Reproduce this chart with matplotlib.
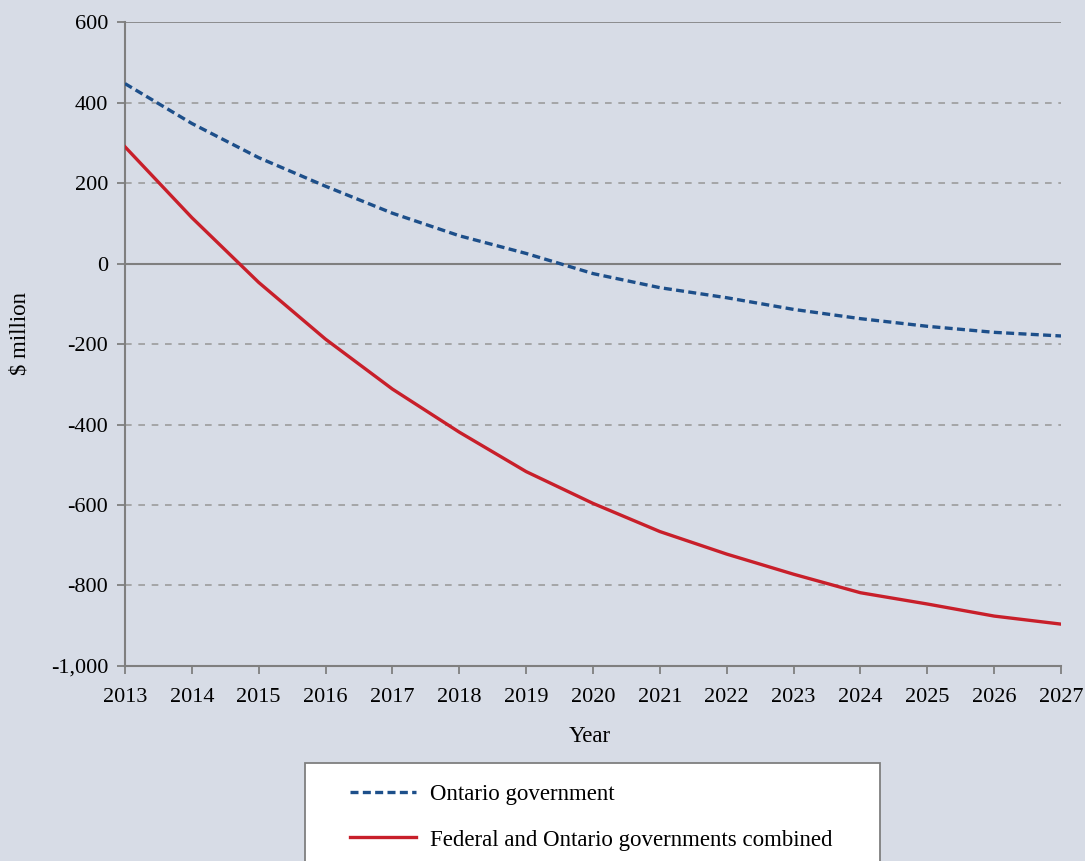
import matplotlib.pyplot as plt
import matplotlib.patches as mpatches
import numpy as np

# Data ($ million).
years = list(range(2013, 2028))
ontario = [447, 348, 263, 192, 125, 69, 25, -25, -60, -85, -114, -137, -156, -171, -180]
combined = [290, 114, -47, -188, -312, -419, -517, -596, -666, -722, -772, -818, -846, -876, -896]

bg = "#d7dce6"
plt.rcParams['font.family'] = ['Liberation Serif', 'DejaVu Serif']

fig = plt.figure(figsize=(10.85, 8.61), dpi=100, facecolor=bg)
ax = fig.add_axes([0.1152, 0.2265, 0.8627, 0.7479], facecolor=bg)

# Grid lines: dashed, with solid lines at 0 and the top.
for v in [400, 200, -200, -400, -600, -800]:
    ax.axhline(v, color="#9c9c9c", lw=1.2, ls=(0, (4, 4)), zorder=1)
ax.axhline(0, color="#7f7f7f", lw=1.5, zorder=1)
ax.axhline(600, color="#7f7f7f", lw=1.2, zorder=1)

ax.plot(years, ontario, color="#1d4f8a", lw=2.4, ls=(0, (2.4, 1.3)),
        label="Ontario government", zorder=3)
ax.plot(years, combined, color="#c81f2a", lw=2.4,
        label="Federal and Ontario governments combined", zorder=3)

ax.set_xlim(2013, 2027)
ax.set_ylim(-1000, 600)
ax.set_xticks(years)
ax.set_yticks(np.arange(-1000, 601, 200))
ax.set_yticklabels([f"{v:,}" for v in range(-1000, 601, 200)])

for s in ["top", "right"]:
    ax.spines[s].set_visible(False)
for s in ["left", "bottom"]:
    ax.spines[s].set_color("#7f7f7f")
    ax.spines[s].set_linewidth(1.5)
ax.tick_params(colors="#7f7f7f", labelcolor="black", labelsize=16, length=6, width=1.3)
ax.tick_params(axis="x", pad=10)
ax.tick_params(axis="y", pad=6)

ax.set_xlabel("Year", fontsize=16.5)
ax.set_ylabel("\\$ million", fontsize=16.5)
ax.xaxis.set_label_coords(0.497, -0.093)
ax.yaxis.set_label_coords(-0.101, 0.517)

# Legend box, running off the bottom of the figure.
box = mpatches.Rectangle((0.2811, -0.05), 0.530, 0.1638, transform=fig.transFigure,
                         facecolor="white", edgecolor="#7f7f7f", lw=1.3, zorder=5)
fig.patches.append(box)

leg = fig.legend(loc="upper left", bbox_to_anchor=(0.3226, 0.0890),
                 fontsize=16.5, frameon=False, handlelength=2.9,
                 handletextpad=0.6, labelspacing=1.05,
                 borderpad=0, borderaxespad=0)
leg.set_zorder(6)

fig.savefig("out.png", dpi=100, facecolor=bg)
